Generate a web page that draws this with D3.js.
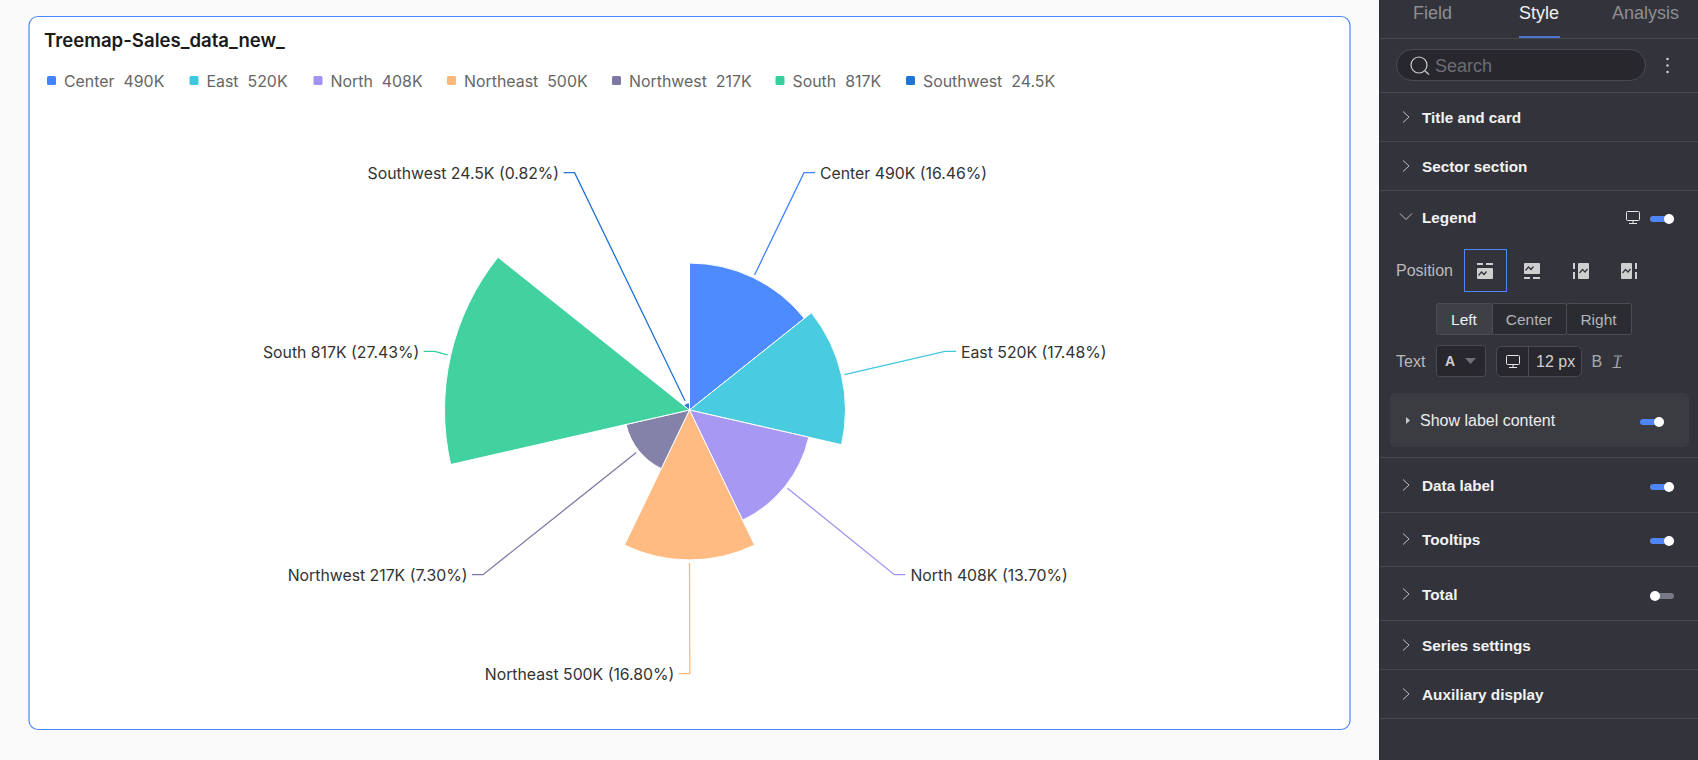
<!DOCTYPE html>
<html>
<head>
<meta charset="utf-8">
<title>Treemap-Sales_data_new_</title>
<script src="https://cdn.jsdelivr.net/npm/d3@7/dist/d3.min.js"></script>
<style>
  html, body { margin: 0; padding: 0; background: #fafafa; overflow: hidden; }
  svg { display: block; }
  text { white-space: pre; }
</style>
</head>
<body>
<svg id="page" width="1698" height="760"></svg>
<script>
// Sales per region, in thousands
const regions = ["Center", "East", "North", "Northeast", "Northwest", "South", "Southwest"];
const salesK = [490, 520, 408, 500, 217, 817, 24.5];
const shares = ["16.46%", "17.48%", "13.70%", "16.80%", "7.30%", "27.43%", "0.82%"];
const regionColors = ["#4284ff", "#3ec8de", "#a292f2", "#ffb77a", "#7c7aa4", "#35cf9a", "#1f74d6"];

// Settings panel content
const tabNames = ["Field", "Style", "Analysis"];
const alignOptions = ["Left", "Center", "Right"];
const panelSections = ["Title and card", "Sector section", "Legend", "Data label", "Tooltips", "Total", "Series settings", "Auxiliary display"];

const chartFont = "Inter, 'Noto Sans', sans-serif";
const panelFont = "'Liberation Sans', Arial, sans-serif";

const svg = d3.select("#page");

/* ---------- card ---------- */
svg.append("rect").attr("x", 29).attr("y", 16.5).attr("width", 1321).attr("height", 713)
  .attr("rx", 9).attr("fill", "#fff").attr("stroke", "#4d86ff").attr("stroke-width", 1.2);

svg.append("text").attr("x", 44).attr("y", 47)
  .attr("font-family", chartFont).attr("font-size", 18.6).attr("font-weight", 600)
  .attr("fill", "#1a1a1a").text("Treemap-Sales_data_new_");

/* ---------- legend ---------- */
const legendStarts = [47, 189.5, 313.5, 447, 612, 775.5, 906];
const legend = svg.append("g").selectAll("g").data(regions).join("g")
  .attr("transform", (d, i) => `translate(${legendStarts[i]},76)`);
legend.append("rect").attr("width", 9).attr("height", 9).attr("rx", 1.5)
  .attr("fill", (d, i) => regionColors[i]);
legend.append("text").attr("x", 17).attr("y", 10.5)
  .attr("font-family", chartFont).attr("font-size", 15.9).attr("fill", "#666")
  .text((d, i) => `${d}  ${salesK[i]}K`);

/* ---------- rose ---------- */
const cx = 689.5, cy = 410;
const radius = d3.scaleLinear().domain([0, d3.max(salesK)]).range([0, 245]);
const pie = d3.pie().value(() => 1).sort(null);
const wedges = pie(salesK);
const arc = d3.arc().innerRadius(0).outerRadius(d => radius(d.data));

const rose = svg.append("g").attr("transform", `translate(${cx},${cy})`);
rose.selectAll("path").data(wedges).join("path")
  .attr("d", arc)
  .attr("fill", (d, i) => regionColors[i])
  .attr("fill-opacity", 0.94)
  .attr("stroke", "#fff").attr("stroke-width", 1);

/* ---------- leader lines and labels ---------- */
const labelRows = [172.7, 351.3, 574.7, 673.7, 574.7, 351.3, 172.7];
const elbowX = [804, 945, 894.4, 689.8, 483, 434.7, 574.6];
const side = [1, 1, 1, -1, -1, -1, -1];
const overshoot = 3;

const leaders = svg.append("g");
wedges.forEach((w, i) => {
  const mid = (w.startAngle + w.endAngle) / 2;
  const r = radius(w.data) + overshoot;
  const sx = cx + r * Math.sin(mid), sy = cy - r * Math.cos(mid);
  const ex = elbowX[i], ey = labelRows[i];
  const tipX = ex + side[i] * 11;
  leaders.append("path")
    .attr("d", d3.line()([[sx, sy], [ex, ey], [tipX, ey]]))
    .attr("fill", "none").attr("stroke", regionColors[i]).attr("stroke-width", 1.3);
  leaders.append("text")
    .attr("x", tipX + side[i] * (side[i] > 0 ? 5 : 4.5)).attr("y", ey + 6.2)
    .attr("text-anchor", side[i] > 0 ? "start" : "end")
    .attr("font-family", chartFont).attr("font-size", 15.8).attr("fill", "#333")
    .text(`${regions[i]} ${salesK[i]}K (${shares[i]})`);
});

/* ---------- settings panel ---------- */
const panel = svg.append("g").attr("font-family", panelFont);
panel.append("rect").attr("x", 1380).attr("y", 0).attr("width", 318).attr("height", 760).attr("fill", "#33343b");
panel.append("line").attr("x1", 1379.5).attr("x2", 1379.5).attr("y1", 0).attr("y2", 760).attr("stroke", "#2a2a30");

const divider = y => panel.append("line").attr("x1", 1380).attr("x2", 1698).attr("y1", y + .5).attr("y2", y + .5).attr("stroke", "#47484f");
[38, 92, 141, 190, 457, 512, 566, 620, 669, 718].forEach(divider);

const tabX = [1413, 1519, 1612];
tabNames.forEach((t, i) => {
  panel.append("text").attr("x", tabX[i]).attr("y", 18.5).attr("font-size", 18)
    .attr("fill", t === "Style" ? "#f0f0f0" : "#8d8e93").text(t);
});
panel.append("rect").attr("x", 1519).attr("y", 36).attr("width", 41).attr("height", 2).attr("fill", "#4f74d0");

// search field
panel.append("rect").attr("x", 1396.5).attr("y", 49.5).attr("width", 249).attr("height", 31).attr("rx", 15.5)
  .attr("fill", "#27272d").attr("stroke", "#4b4c53");
panel.append("circle").attr("cx", 1419).attr("cy", 65).attr("r", 8).attr("fill", "none").attr("stroke", "#cfcfd2").attr("stroke-width", 1.2);
panel.append("line").attr("x1", 1425).attr("y1", 71).attr("x2", 1429).attr("y2", 74.5).attr("stroke", "#cfcfd2").attr("stroke-width", 1.2);
panel.append("text").attr("x", 1435).attr("y", 71.5).attr("font-size", 18).attr("fill", "#6d6e74").text("Search");
[59, 65.5, 72].forEach(y => panel.append("circle").attr("cx", 1667.5).attr("cy", y).attr("r", 1.3).attr("fill", "#c8c8cc"));

// section headers
const sectionBaseline = [123, 172, 223, 491, 545, 600, 651, 700];
const sectionToggle = { "Legend": true, "Data label": true, "Tooltips": true, "Total": false };
function toggle(x, y, on) {
  panel.append("rect").attr("x", x).attr("y", y - 3).attr("width", 24).attr("height", 6).attr("rx", 3)
    .attr("fill", on ? "#4f86f7" : "#777986");
  panel.append("circle").attr("cx", on ? x + 19 : x + 5).attr("cy", y).attr("r", 5).attr("fill", "#fff");
}
panelSections.forEach((name, i) => {
  const b = sectionBaseline[i];
  panel.append("text").attr("x", 1422).attr("y", b).attr("font-size", 15.3).attr("font-weight", 700)
    .attr("fill", "#f2f2f2").text(name);
  const c = b - 6;
  const chevron = name === "Legend"
    ? [[1400, c - 3.5], [1406, c + 2.5], [1412, c - 3.5]]
    : [[1403, c - 5.5], [1409, c], [1403, c + 5.5]];
  panel.append("path").attr("d", d3.line()(chevron)).attr("fill", "none").attr("stroke", "#bdbdc0").attr("stroke-width", 1);
  if (name in sectionToggle) toggle(1650, name === "Legend" ? 219 : b - 4, sectionToggle[name]);
});

function monitor(x, y) {
  panel.append("rect").attr("x", x + .5).attr("y", y + .5).attr("width", 13).attr("height", 9).attr("rx", 1).attr("fill", "none").attr("stroke", "#e6e6e6");
  panel.append("path").attr("d", `M${x + 7} ${y + 10}V${y + 12.5}M${x + 3} ${y + 12.5}H${x + 11}`).attr("stroke", "#e6e6e6").attr("fill", "none");
}
monitor(1626, 211);

// legend position row
panel.append("text").attr("x", 1396).attr("y", 276).attr("font-size", 16).attr("fill", "#b9babd").text("Position");
panel.append("rect").attr("x", 1464.5).attr("y", 249.5).attr("width", 42).attr("height", 42).attr("fill", "none").attr("stroke", "#4f86f7");
const positionIconX = [1477, 1524, 1573, 1621];
positionIconX.forEach((x, i) => {
  const g = panel.append("g").attr("transform", `translate(${x},263)`);
  const body = [[0, 5, 16, 11], [0, 0, 16, 11], [5, 0, 11, 16], [0, 0, 11, 16]][i];
  g.append("rect").attr("x", body[0]).attr("y", body[1]).attr("width", body[2]).attr("height", body[3]).attr("rx", 1).attr("fill", "#cfcfcf");
  const ticks = [
    [[0, 0, 6, 2], [9, 0, 7, 2]],
    [[0, 14, 6, 2], [9, 14, 7, 2]],
    [[0, 0, 2, 6], [0, 9, 2, 7]],
    [[14, 0, 2, 6], [14, 9, 2, 7]]
  ][i];
  ticks.forEach(t => g.append("rect").attr("x", t[0]).attr("y", t[1]).attr("width", t[2]).attr("height", t[3]).attr("fill", "#cfcfcf"));
  const ox = body[0] + 1.5, oy = body[1] + body[3] / 2;
  g.append("path").attr("d", d3.line()([[ox, oy + 2], [ox + 3, oy - 1.5], [ox + 5.5, oy + 1], [ox + 8, oy - 2]]))
    .attr("fill", "none").attr("stroke", "#33343b").attr("stroke-width", 1.2);
});

// alignment buttons
const alignX = [1436, 1492, 1566, 1631];
alignOptions.forEach((t, i) => {
  panel.append("rect").attr("x", alignX[i] + .5).attr("y", 303.5).attr("width", alignX[i + 1] - alignX[i]).attr("height", 31).attr("rx", 2)
    .attr("fill", i === 0 ? "#3f4047" : "#2b2c32").attr("stroke", "#4d4e55");
  panel.append("text").attr("x", (alignX[i] + alignX[i + 1]) / 2).attr("y", 325).attr("text-anchor", "middle")
    .attr("font-size", 15.5).attr("fill", i === 0 ? "#f0f0f0" : "#b3b4b7").text(t);
});

// text style row
panel.append("text").attr("x", 1396).attr("y", 367).attr("font-size", 16).attr("fill", "#b9babd").text("Text");
panel.append("rect").attr("x", 1436.5).attr("y", 345.5).attr("width", 49).attr("height", 31).attr("rx", 3).attr("fill", "#27272d").attr("stroke", "#4b4c53");
panel.append("text").attr("x", 1445).attr("y", 366).attr("font-size", 14).attr("font-weight", 700).attr("fill", "#cfcfd2").text("A");
panel.append("path").attr("d", d3.line()([[1465, 358], [1476, 358], [1470.5, 364]])).attr("fill", "#70717a");
panel.append("rect").attr("x", 1496.5).attr("y", 346.5).attr("width", 85).attr("height", 30).attr("rx", 5).attr("fill", "#27272d").attr("stroke", "#4b4c53");
panel.append("line").attr("x1", 1528.5).attr("x2", 1528.5).attr("y1", 347).attr("y2", 376).attr("stroke", "#4b4c53");
monitor(1506, 355);
panel.append("text").attr("x", 1536).attr("y", 367).attr("font-size", 16).attr("fill", "#cfcfd2").text("12 px");
panel.append("text").attr("x", 1591.5).attr("y", 367).attr("font-size", 16).attr("fill", "#a8a9ad").text("B");
panel.append("text").attr("x", 1615).attr("y", 366.5).attr("font-size", 15).attr("font-style", "italic").attr("fill", "#a8a9ad").text("I");
panel.append("path").attr("d", "M1614 356H1622M1612.5 367.5H1621").attr("fill", "none").attr("stroke", "#a8a9ad");

// label content block
panel.append("rect").attr("x", 1390).attr("y", 393).attr("width", 299).attr("height", 54).attr("rx", 5).attr("fill", "#3b3c42");
panel.append("path").attr("d", d3.line()([[1406, 417], [1410, 420.5], [1406, 424]])).attr("fill", "#c8c8cc");
panel.append("text").attr("x", 1420).attr("y", 426).attr("font-size", 16).attr("fill", "#ececec").text("Show label content");
toggle(1640, 422, true);
</script>
</body>
</html>
